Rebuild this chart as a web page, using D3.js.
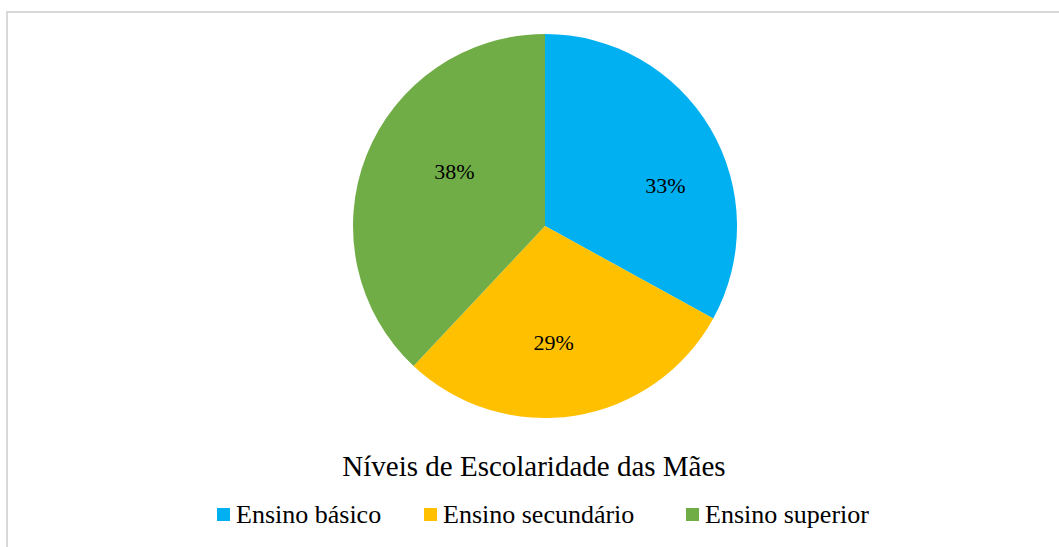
<!DOCTYPE html>
<html>
<head>
<meta charset="utf-8">
<script src="https://cdn.jsdelivr.net/npm/d3@7"></script>
<style>
  body { margin: 0; background: #fff; }
  svg { display: block; font-family: "Liberation Serif", "Times New Roman", serif; }
</style>
</head>
<body>
<div id="chart"></div>
<script>
// data
var categories = ["Ensino básico", "Ensino secundário", "Ensino superior"];
var values = [33, 29, 38];
var colors = ["#00b0f0", "#ffc000", "#70ad47"];
var title = "Níveis de Escolaridade das Mães";

var svgWidth = 1059;
var svgHeight = 547;

var svg = d3.select("#chart")
  .append("svg")
  .attr("width", svgWidth)
  .attr("height", svgHeight);

// chart border (right and bottom run off the page)
svg.append("rect")
  .attr("x", 7)
  .attr("y", 12)
  .attr("width", 1060)
  .attr("height", 560)
  .attr("fill", "none")
  .attr("stroke", "#d9d9d9")
  .attr("stroke-width", 2);

var cx = 545, cy = 226, radius = 192;

var pie = d3.pie().sort(null).value(d => d);
var arcs = pie(values);

var arc = d3.arc().innerRadius(0).outerRadius(radius);
var labelArc = d3.arc().innerRadius(radius * 0.62).outerRadius(radius * 0.62);
// excel "best fit" moves the labels a bit off the centroid
var labelNudge = [[18, 20], [-10, -1], [20, -11]];

var pieGroup = svg.append("g")
  .attr("transform", `translate(${cx}, ${cy})`);

pieGroup.selectAll("path")
  .data(arcs)
  .enter()
  .append("path")
  .attr("d", arc)
  .attr("fill", (d, i) => colors[i]);

pieGroup.selectAll("text")
  .data(arcs)
  .enter()
  .append("text")
  .attr("transform", (d, i) => {
    var c = labelArc.centroid(d);
    return `translate(${c[0] + labelNudge[i][0]}, ${c[1] + labelNudge[i][1]})`;
  })
  .attr("text-anchor", "middle")
  .attr("dy", "0.35em")
  .attr("font-size", "22px")
  .attr("fill", "#000")
  .text(d => d.data + "%");

// title
svg.append("text")
  .attr("x", 534)
  .attr("y", 476)
  .attr("text-anchor", "middle")
  .attr("font-size", "29px")
  .attr("fill", "#000")
  .text(title);

// legend
var legendX = [217, 424, 686];
var legend = svg.selectAll(".legend")
  .data(categories)
  .enter()
  .append("g")
  .attr("class", "legend")
  .attr("transform", (d, i) => `translate(${legendX[i]}, 523)`);

legend.append("rect")
  .attr("x", 0)
  .attr("y", -15)
  .attr("width", 13)
  .attr("height", 13)
  .attr("fill", (d, i) => colors[i]);

legend.append("text")
  .attr("x", 19)
  .attr("font-size", "26px")
  .attr("fill", "#000")
  .text(d => d);
</script>
</body>
</html>
